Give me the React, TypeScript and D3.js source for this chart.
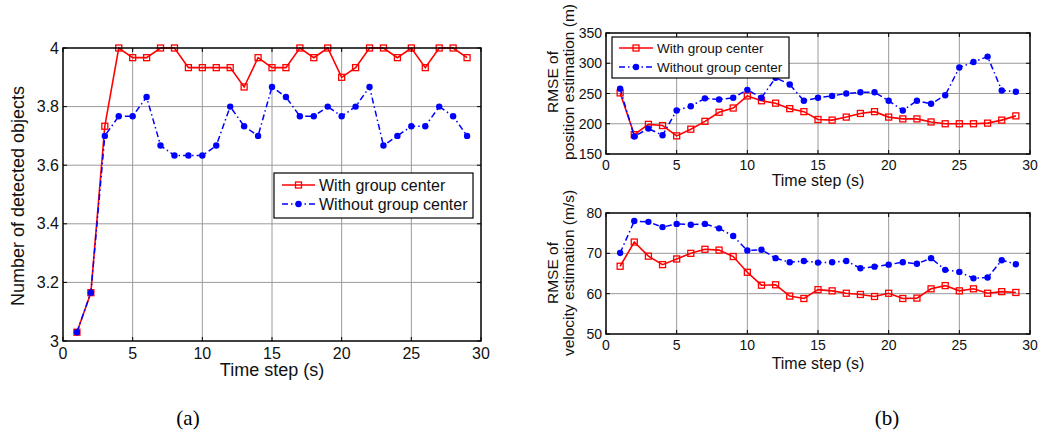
import React from "react";
import * as d3 from "d3";

const steps = [1,2,3,4,5,6,7,8,9,10,11,12,13,14,15,16,17,18,19,20,21,22,23,24,25,26,27,28,29];

const detWith = [3.03,3.165,3.733,4.0,3.967,3.967,4.0,4.0,3.933,3.933,3.933,3.933,3.867,3.967,3.933,3.933,4.0,3.967,4.0,3.9,3.933,4.0,4.0,3.967,4.0,3.933,4.0,4.0,3.967];
const detWithout = [3.03,3.165,3.7,3.767,3.767,3.833,3.667,3.633,3.633,3.633,3.667,3.8,3.733,3.7,3.867,3.833,3.767,3.767,3.8,3.767,3.8,3.867,3.667,3.7,3.733,3.733,3.8,3.767,3.7];

const posWith = [251,182,199,197,180,191,204,219,226,246,238,234,225,220,207,206,211,217,220,211,208,208,203,200,200,200,201,206,213];
const posWithout = [258,179,192,181,222,229,242,240,243,256,243,276,265,238,243,246,250,252,252,238,222,238,233,247,293,302,311,255,253];

const velWith = [66.8,72.8,69.3,67.2,68.6,70.0,71.0,70.8,69.2,65.3,62.1,62.2,59.4,58.8,61.0,60.7,60.1,59.8,59.3,60.1,58.8,58.9,61.2,62.0,60.7,61.2,60.1,60.5,60.3];
const velWithout = [70.1,78.0,77.8,76.5,77.3,77.1,77.3,76.2,74.3,70.7,70.9,68.8,67.8,68.1,67.7,67.8,68.1,66.3,66.7,67.2,67.8,67.4,68.8,65.9,65.4,63.8,64.0,68.3,67.3];

const xTicks = [0,5,10,15,20,25,30];
const detTicks = [3,3.2,3.4,3.6,3.8,4];
const detTickLabels = ["3","3.2","3.4","3.6","3.8","4"];
const posTicks = [150,200,250,300,350];
const velTicks = [50,60,70,80];
const seriesNames = ["With group center","Without group center"];

const FONT = "'Liberation Sans', Arial, Helvetica, sans-serif";
const RED = "#ff0000";
const BLUE = "#0000ff";
const GRID = "#9a9a9a";

type PanelProps = {
  left: number; right: number; top: number; bottom: number;
  yDomain: [number, number]; yTicks: number[]; yTickLabels?: string[];
  red: number[]; blue: number[];
  tickFont: number; xLabelFont: number; xLabelY: number; xTickY: number;
  legend?: { x: number; y: number; w: number; h: number; font: number; row1: number; row2: number; lx0: number; lx1: number; tx: number };
};

function Panel(p: PanelProps) {
  const x = d3.scaleLinear().domain([0, 30]).range([p.left, p.right]);
  const y = d3.scaleLinear().domain(p.yDomain).range([p.bottom, p.top]);
  const line = d3.line<number>().x((_, i) => x(steps[i])).y((d) => y(d));
  const tl = 4;
  const sq = 6;
  return (
    <g>
      <rect x={p.left} y={p.top} width={p.right - p.left} height={p.bottom - p.top} fill="#fff" />
      {xTicks.slice(1, -1).map((t) => (
        <line key={"gx" + t} x1={x(t)} x2={x(t)} y1={p.top} y2={p.bottom} stroke={GRID} strokeWidth={1} />
      ))}
      {p.yTicks.slice(1, -1).map((t) => (
        <line key={"gy" + t} x1={p.left} x2={p.right} y1={y(t)} y2={y(t)} stroke={GRID} strokeWidth={1} />
      ))}
      <path d={line(p.red) || ""} fill="none" stroke={RED} strokeWidth={1.6} />
      {p.red.map((v, i) => (
        <rect key={"r" + i} x={x(steps[i]) - sq / 2} y={y(v) - sq / 2} width={sq} height={sq} fill="none" stroke={RED} strokeWidth={1.3} />
      ))}
      <path d={line(p.blue) || ""} fill="none" stroke={BLUE} strokeWidth={1.5} strokeDasharray="6,3,1.5,3" />
      {p.blue.map((v, i) => (
        <circle key={"b" + i} cx={x(steps[i])} cy={y(v)} r={3.2} fill={BLUE} />
      ))}
      <rect x={p.left} y={p.top} width={p.right - p.left} height={p.bottom - p.top} fill="none" stroke="#000" strokeWidth={1.5} />
      {xTicks.map((t) => (
        <g key={"tx" + t}>
          <line x1={x(t)} x2={x(t)} y1={p.bottom} y2={p.bottom - tl} stroke="#000" />
          <line x1={x(t)} x2={x(t)} y1={p.top} y2={p.top + tl} stroke="#000" />
          <text x={x(t)} y={p.xTickY} textAnchor="middle" dominantBaseline="central" fontSize={p.tickFont} fontFamily={FONT} fill="#111">{t}</text>
        </g>
      ))}
      {p.yTicks.map((t, i) => (
        <g key={"ty" + t}>
          <line x1={p.left} x2={p.left + tl} y1={y(t)} y2={y(t)} stroke="#000" />
          <line x1={p.right} x2={p.right - tl} y1={y(t)} y2={y(t)} stroke="#000" />
          <text x={p.left - 4} y={y(t)} textAnchor="end" dominantBaseline="central" fontSize={p.tickFont} fontFamily={FONT} fill="#111">{p.yTickLabels ? p.yTickLabels[i] : t}</text>
        </g>
      ))}
      <text x={(p.left + p.right) / 2} y={p.xLabelY} textAnchor="middle" fontSize={p.xLabelFont} fontFamily={FONT} fill="#111">Time step (s)</text>
      {p.legend && (
        <g>
          <rect x={p.legend.x} y={p.legend.y} width={p.legend.w} height={p.legend.h} fill="#fff" stroke="#000" strokeWidth={1.2} />
          <line x1={p.legend.lx0} x2={p.legend.lx1} y1={p.legend.row1} y2={p.legend.row1} stroke={RED} strokeWidth={1.6} />
          <rect x={(p.legend.lx0 + p.legend.lx1) / 2 - sq / 2} y={p.legend.row1 - sq / 2} width={sq} height={sq} fill="none" stroke={RED} strokeWidth={1.3} />
          <text x={p.legend.tx} y={p.legend.row1} dominantBaseline="central" fontSize={p.legend.font} fontFamily={FONT} fill="#111">{seriesNames[0]}</text>
          <line x1={p.legend.lx0} x2={p.legend.lx1} y1={p.legend.row2} y2={p.legend.row2} stroke={BLUE} strokeWidth={1.5} strokeDasharray="6,3,1.5,3" />
          <circle cx={(p.legend.lx0 + p.legend.lx1) / 2} cy={p.legend.row2} r={3.2} fill={BLUE} />
          <text x={p.legend.tx} y={p.legend.row2} dominantBaseline="central" fontSize={p.legend.font} fontFamily={FONT} fill="#111">{seriesNames[1]}</text>
        </g>
      )}
    </g>
  );
}

export default function App() {
  return (
    <svg width={1039} height={430} style={{ position: "absolute", left: 0, top: 0, background: "#fff" }}>
      <rect width={1039} height={430} fill="#fff" />
      <Panel left={63} right={481} top={48} bottom={341} yDomain={[3, 4]} yTicks={detTicks} yTickLabels={detTickLabels}
        red={detWith} blue={detWithout} tickFont={16} xLabelFont={18} xLabelY={376} xTickY={353}
        legend={{ x: 274, y: 173, w: 199, h: 45, font: 16, row1: 185, row2: 204, lx0: 282, lx1: 315, tx: 319 }} />
      <text transform="translate(24,196) rotate(-90)" textAnchor="middle" fontSize={18} fontFamily={FONT} fill="#111">Number of detected objects</text>
      <text x={188} y={425} textAnchor="middle" fontSize={21} fontFamily="'Liberation Serif', 'Times New Roman', serif" fill="#000">(a)</text>

      <Panel left={606} right={1030} top={33} bottom={154} yDomain={[150, 350]} yTicks={posTicks}
        red={posWith} blue={posWithout} tickFont={14} xLabelFont={16} xLabelY={186} xTickY={165}
        legend={{ x: 612, y: 37, w: 177, h: 41, font: 13.5, row1: 48, row2: 67, lx0: 619, lx1: 653, tx: 657 }} />
      <text transform="translate(558,82) rotate(-90)" textAnchor="middle" fontSize={15.5} fontFamily={FONT} fill="#111">RMSE of</text>
      <text transform="translate(574,82) rotate(-90)" textAnchor="middle" fontSize={15.5} fontFamily={FONT} fill="#111">position estimation (m)</text>

      <Panel left={606} right={1030} top={213} bottom={334} yDomain={[50, 80]} yTicks={velTicks}
        red={velWith} blue={velWithout} tickFont={14} xLabelFont={16} xLabelY={369} xTickY={345} />
      <text transform="translate(558,273) rotate(-90)" textAnchor="middle" fontSize={15.5} fontFamily={FONT} fill="#111">RMSE of</text>
      <text transform="translate(574,273) rotate(-90)" textAnchor="middle" fontSize={15.5} fontFamily={FONT} fill="#111">velocity estimation (m/s)</text>
      <text x={887} y={425} textAnchor="middle" fontSize={21} fontFamily="'Liberation Serif', 'Times New Roman', serif" fill="#000">(b)</text>
    </svg>
  );
}
